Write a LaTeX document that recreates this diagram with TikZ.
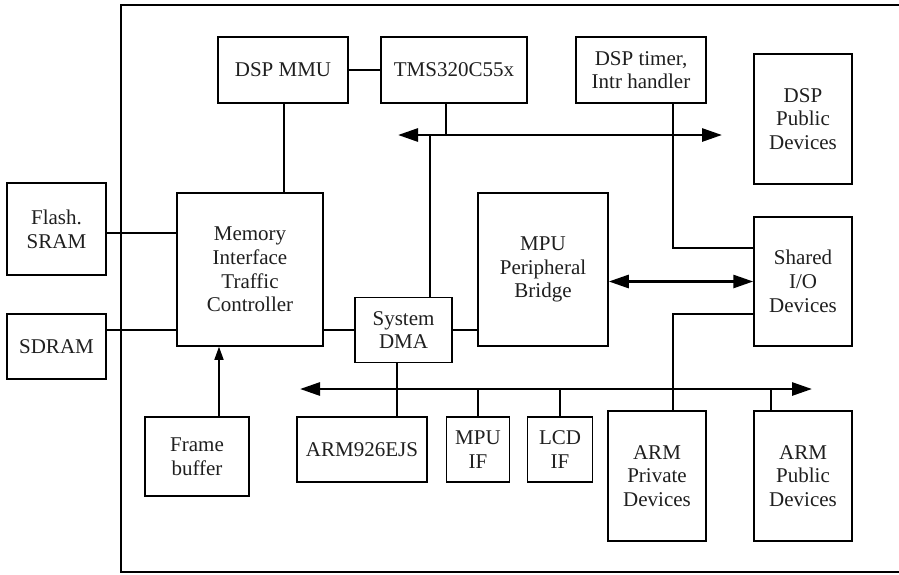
\documentclass[tikz,border=0pt]{standalone}
\usepackage{fontspec}
\setmainfont{Liberation Serif}
\usetikzlibrary{arrows.meta}
\begin{document}
\begin{tikzpicture}[x=1pt,y=-1pt,
  box/.style={draw, line width=1.5pt, inner sep=0pt, align=center,
    font=\fontsize{21}{23.7}\selectfont, text=black!88},
  wire/.style={line width=1.5pt},
  bus/.style={line width=2.8pt, {Triangle[length=20pt,width=13pt]}-{Triangle[length=20pt,width=13pt]}},
  feed/.style={line width=1.5pt, -{Triangle[length=13pt,width=9pt]}}]
\useasboundingbox (0,0) rectangle (899,574);

% chip boundary (open to the right)
\draw[wire] (899,5) -- (121,5) -- (121,572) -- (899,572);

% external memories
\node[box, minimum width=99pt, minimum height=92pt] (flash) at (56.5,229) {Flash.\\SRAM};
\node[box, minimum width=99pt, minimum height=65pt] (sdram) at (56.5,346.5) {SDRAM};

% DSP side
\node[box, minimum width=146pt, minimum height=153pt] (mitc) at (250,269.5) {Memory\\Interface\\Traffic\\Controller};
\node[box, minimum width=130pt, minimum height=66pt] (dspmmu) at (283,70) {DSP MMU};
\node[box, minimum width=146pt, minimum height=66pt] (tms) at (454,70) {TMS320C55x};
\node[box, minimum width=130pt, minimum height=66pt] (timer) at (641,70) {DSP timer,\\Intr handler};
\node[box, minimum width=98pt, minimum height=130pt] (dsppub) at (803,119) {DSP\\Public\\Devices};
\node[box, minimum width=98pt, minimum height=129pt] (shared) at (803,281.5) {Shared\\I/O\\Devices};
\node[box, minimum width=130pt, minimum height=153pt] (bridge) at (543,269.5) {MPU\\Peripheral\\Bridge};
\node[box, minimum width=97pt, minimum height=65pt] (dma) at (403.5,330) {System\\DMA};

% MPU side
\node[box, minimum width=104pt, minimum height=79pt] (frame) at (197,456.5) {Frame\\buffer};
\node[box, minimum width=130pt, minimum height=65pt] (arm) at (362,449.5) {ARM926EJS};
\node[box, minimum width=63pt, minimum height=65pt] (mpuif) at (478,449.5) {MPU\\IF};
\node[box, minimum width=65pt, minimum height=65pt] (lcdif) at (560,449.5) {LCD\\IF};
\node[box, minimum width=98pt, minimum height=130pt] (armpriv) at (657,476) {ARM\\Private\\Devices};
\node[box, minimum width=98pt, minimum height=130pt] (armpub) at (803,476) {ARM\\Public\\Devices};

% bus end points
\coordinate (tbL) at (398,135);
\coordinate (tbR) at (722,135);
\coordinate (bbL) at (300,389);
\coordinate (bbR) at (812,389);

% memory connections
\draw[wire] ([yshift=-4pt]flash.east) -- ([yshift=-4pt]flash.east -| mitc.west);
\draw[wire] (sdram.east |- dma.west) -- (mitc.west |- dma.west);
\draw[wire] (mitc.east |- dma.west) -- (dma.west);
\draw[wire] (dma.east) -- (dma.east -| bridge.west);
\draw[wire] ([xshift=1pt]dspmmu.south) -- ([xshift=1pt]dspmmu.south |- mitc.north);
\draw[wire] (dspmmu.east) -- (tms.west);
\draw[feed] ([xshift=22pt]frame.north) -- ([xshift=22pt]frame.north |- mitc.south);

% DSP bus
\draw[bus] (tbL) -- (tbR);
\draw[wire] ([xshift=-8pt]tms.south) -- ([xshift=-8pt]tms.south |- tbL);
\draw[wire] ([xshift=26.5pt]dma.north) -- ([xshift=26.5pt]dma.north |- tbL);
\draw[wire] ([xshift=32pt]timer.south) |- ([yshift=33.5pt]shared.west);
\draw[bus] (bridge.east |- shared.west) -- (shared.west);

% MPU bus
\draw[bus] (bbL) -- (bbR);
\draw[wire] ([xshift=-6.5pt]dma.south) -- ([xshift=-6.5pt]dma.south |- arm.north);
\draw[wire] (mpuif.north |- bbL) -- (mpuif.north);
\draw[wire] (lcdif.north |- bbL) -- (lcdif.north);
\draw[wire] ([xshift=16pt]armpriv.north) |- ([yshift=-32.5pt]shared.west);
\draw[wire] ([xshift=-32pt]armpub.north) -- ([xshift=-32pt]armpub.north |- bbL);
\end{tikzpicture}
\end{document}
